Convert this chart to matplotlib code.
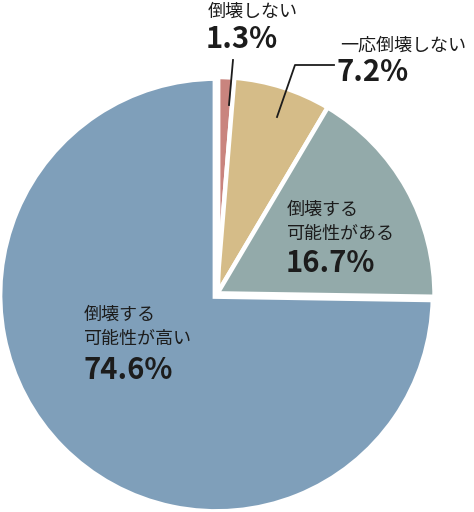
import matplotlib.pyplot as plt

plt.rcParams['font.family'] = ['Noto Sans CJK JP', 'DejaVu Sans']

# slice data (clockwise from 12 o'clock)
labels = ['倒壊しない', '一応倒壊しない', '倒壊する\n可能性がある', '倒壊する\n可能性が高い']
values = [1.3, 7.2, 16.7, 74.6]
pct_labels = ['1.3%', '7.2%', '16.7%', '74.6%']
colors = ['#C9847E', '#D5BC88', '#93AAAA', '#7F9FBA']

W, H = 474, 512
cx, cy, R = 216.5, 295, 218   # pie centre / radius in pixels (from top-left)

fig = plt.figure(figsize=(W / 100, H / 100), dpi=100)
ax = fig.add_axes([0, 0, 1, 1])

wedges, _ = ax.pie(values, colors=colors, startangle=90, counterclock=False,
                   wedgeprops=dict(edgecolor='white', linewidth=3.2))
# wider white gap around the big slice
wedges[3].set_linewidth(5.6)
wedges[3].set_zorder(wedges[0].get_zorder() + 1)

ax.set_xlim(-cx / R, (W - cx) / R)
ax.set_ylim((cy - H) / R, cy / R)
ax.set_aspect('equal')
ax.axis('off')


def px(x, y):
    # pixel position -> data coordinates
    return (x - cx) / R, (cy - y) / R


ink = '#1c1c1c'

# 1.3%
ax.text(*px(208, 12), labels[0], fontsize=13, color=ink, va='center', ha='left')
ax.text(*px(206, 39), pct_labels[0], fontsize=21, fontweight='bold', color=ink,
        va='center', ha='left')
ax.plot(*zip(px(233, 60), px(229, 105)), color=ink, lw=1.3, zorder=5)

# 7.2%
ax.text(*px(340, 46), labels[1], fontsize=13, color=ink, va='center', ha='left')
ax.text(*px(336, 72), pct_labels[1], fontsize=21, fontweight='bold', color=ink,
        va='center', ha='left')
ax.plot(*zip(px(334, 65), px(295, 65), px(277, 117)), color=ink, lw=1.3, zorder=5)

# 16.7%
ax.text(*px(287, 222), labels[2], fontsize=13, color=ink, va='center', ha='left',
        linespacing=1.45)
ax.text(*px(286, 263), pct_labels[2], fontsize=21, fontweight='bold', color=ink,
        va='center', ha='left')

# 74.6%
ax.text(*px(84, 327), labels[3], fontsize=13, color=ink, va='center', ha='left',
        linespacing=1.45)
ax.text(*px(83, 370), pct_labels[3], fontsize=21, fontweight='bold', color=ink,
        va='center', ha='left')

fig.savefig('out.png', dpi=100, facecolor='white')
